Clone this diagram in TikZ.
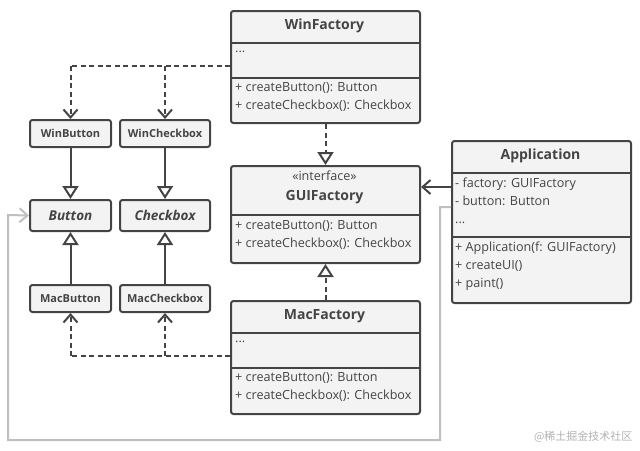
\documentclass[tikz,border=0pt]{standalone}
\usepackage{fontspec}
\setmainfont{Open Sans}
\newfontfamily\cjk{Noto Sans CJK SC}
\usetikzlibrary{arrows.meta}
\definecolor{ln}{HTML}{444444}
\definecolor{bg}{HTML}{F3F3F3}
\begin{document}
\begin{tikzpicture}[x=1pt,y=-1pt,
  comp/.style={draw=ln,fill=bg,line width=2pt,rounded corners=2.5pt,inner sep=0pt},
  sep/.style={draw=ln,line width=2pt},
  small/.style={font=\fontsize{11}{12}\selectfont\bfseries,text=ln},
  head/.style={font=\fontsize{14}{15}\selectfont\bfseries,text=ln},
  txt/.style={font=\fontsize{12.6}{18}\selectfont,text=ln,align=left,anchor=north west,inner sep=0pt},
  tri/.style={-{Triangle[open,length=13pt,width=16pt]},line width=2pt,draw=ln},
  opn/.style={-{Straight Barb[length=8pt,width=14pt]},line width=2pt,draw=ln},
  dsh/.style={dash pattern=on 5pt off 3.5pt}]
\useasboundingbox (0,0) rectangle (640,450);
% WinFactory
\node[comp,minimum width=189pt,minimum height=112pt,anchor=north west] (wf) at (230,10) {};
\draw[sep] (230,43) -- (419,43) (230,78) -- (419,78);
\node[head] (wft) at (324.5,26) {WinFactory};
\node[txt] (wfa) at (235,51) {...};
\node[txt] (wfm) at (235,82) {+ createButton(): Button\\+ createCheckbox(): Checkbox};
% GUIFactory
\node[comp,minimum width=189pt,minimum height=97pt,anchor=north west] (gf) at (230,165) {};
\draw[sep] (230,215) -- (419,215);
\node[txt,anchor=north,align=center,font=\fontsize{12.6}{20}\selectfont] (gft) at (324.5,171) {«interface»\\{\fontsize{14}{15}\selectfont\bfseries GUIFactory}};
\node[txt] (gfm) at (235,220) {+ createButton(): Button\\+ createCheckbox(): Checkbox};
% MacFactory
\node[comp,minimum width=189pt,minimum height=113pt,anchor=north west] (mf) at (230,300) {};
\draw[sep] (230,333) -- (419,333) (230,368) -- (419,368);
\node[head] (mft) at (324.5,316) {MacFactory};
\node[txt] (mfa) at (235,341) {...};
\node[txt] (mfm) at (235,372) {+ createButton(): Button\\+ createCheckbox(): Checkbox};
% Application
\node[comp,minimum width=179pt,minimum height=162pt,anchor=north west] (ap) at (451,140) {};
\draw[sep] (451,173) -- (630,173) (451,237) -- (630,237);
\node[head] (apt) at (540.5,156) {Application};
\node[txt] (apa) at (455,178) {- factory: GUIFactory\\- button: Button\\...};
\node[txt] (apm) at (455,242) {+ Application(f: GUIFactory)\\+ createUI()\\+ paint()};
% small classes
\node[comp,small,minimum width=81pt,minimum height=27pt] (wb) at (70.5,133.5) {WinButton};
\node[comp,small,minimum width=90pt,minimum height=27pt] (wc) at (165,133.5) {WinCheckbox};
\node[comp,minimum width=81pt,minimum height=31pt,font=\fontsize{13.5}{14}\selectfont\bfseries\itshape,text=ln] (bt) at (70.5,215.5) {Button};
\node[comp,minimum width=90pt,minimum height=31pt,font=\fontsize{13.5}{14}\selectfont\bfseries\itshape,text=ln] (cb) at (165,215.5) {Checkbox};
\node[comp,small,minimum width=81pt,minimum height=27pt] (mb) at (70.5,298.5) {MacButton};
\node[comp,small,minimum width=90pt,minimum height=27pt] (mc) at (165,298.5) {MacCheckbox};
% connectors
\coordinate (w1) at (70.5,66); \coordinate (w2) at (165,66);
\draw[line width=2pt,draw=ln,dsh] (wf.west|-w1) -- (w1);
\draw[opn,dsh] (w1) -- (wb.north);
\draw[opn,dsh] (w2) -- (wc.north);
\coordinate (m1) at (70.5,356); \coordinate (m2) at (165,356);
\draw[line width=2pt,draw=ln,dsh] (mf.west|-m1) -- (m1);
\draw[opn,dsh] (m1) -- (mb.south);
\draw[opn,dsh] (m2) -- (mc.south);
\draw[tri] (wb) -- (bt);
\draw[tri] (wc) -- (cb);
\draw[tri] (mb) -- (bt);
\draw[tri] (mc) -- (cb);
\draw[tri,dsh] (wf.south) -- (gf.north);
\draw[tri,dsh] (mf.north) -- (gf.south);
\coordinate (a1) at (451,187);
\draw[opn] (a1) -- (gf.east|-a1);
\coordinate (g1) at (451,207); \coordinate (g2) at (440,207);
\coordinate (g3) at (440,440); \coordinate (g4) at (8,440); \coordinate (g5) at (8,215);
\draw[-{Straight Barb[length=8pt,width=14pt]},line width=2pt,draw=gray!50] (g1) -- (g2) -- (g3) -- (g4) -- (g5) -- (bt.west);
\node[font=\cjk\fontsize{11}{12}\selectfont,text=gray!60,anchor=east] (wm) at (636,437) {@稀土掘金技术社区};
\end{tikzpicture}
\end{document}
